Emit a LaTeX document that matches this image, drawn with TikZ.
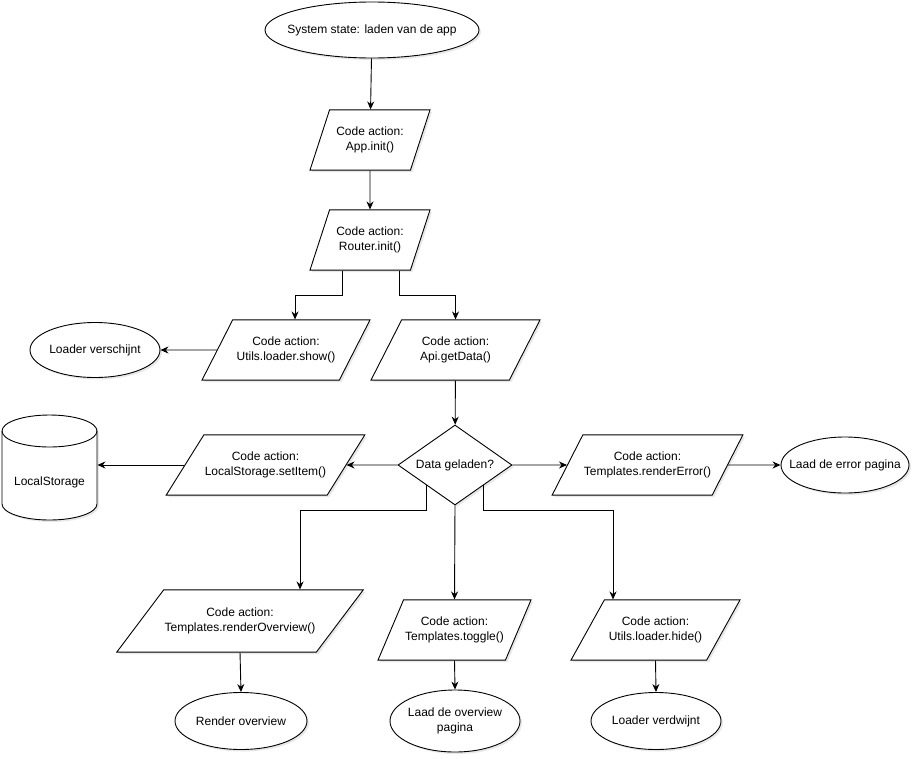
\documentclass[tikz,border=0pt]{standalone}
\usepackage{fontspec}
\setmainfont{Liberation Sans}
\usetikzlibrary{arrows.meta,positioning,shapes.geometric,shadows}

\begin{document}
\begin{tikzpicture}[
    x=1pt, y=-1pt,
    font=\fontsize{12}{15}\selectfont,
    shade/.style={
        drop shadow={shadow xshift=2pt, shadow yshift=-2pt, opacity=0.18}
    },
    state/.style={
        draw,
        ellipse,
        align=center,
        fill=white,
        shade,
        inner xsep=-15pt,
        inner ysep=0pt,
        minimum height=56pt
    },
    action/.style={
        draw,
        trapezium,
        trapezium left angle=#1,
        trapezium right angle=180-#1,
        trapezium stretches body,
        align=center,
        fill=white,
        shade,
        inner xsep=1pt,
        inner ysep=17pt
    },
    check/.style={
        draw,
        diamond,
        aspect=1.4,
        fill=white,
        shade,
        inner sep=1pt,
        minimum width=114pt,
        minimum height=80pt
    },
    cyl/.style={
        draw,
        fill=white,
        -
    },
    dbtext/.style={
        minimum width=95pt,
        inner sep=0pt
    },
    ->, >={Stealth[length=8pt,width=7pt]}, line width=0.9pt
]
\useasboundingbox (0,0) rectangle (918,758);

\node[state, minimum width=214pt] (start) at (372,30) {System state: laden van de app};

\node[action=72, minimum width=120pt] (app) at (370,140) {Code action:\\App.init()};
\node[action=72, minimum width=120pt] (router) at (370,240) {Code action:\\Router.init()};

\node[action=63, minimum width=168pt] (show) at (286,350) {Code action:\\Utils.loader.show()};
\node[action=63, minimum width=169pt] (getdata) at (455.5,350) {Code action:\\Api.getData()};
\node[state, minimum width=130pt, minimum height=55pt] (verschijnt) at (95,350) {Loader verschijnt};

\node[check] (geladen) at (455,465) {Data geladen?};
\node[action=58, minimum width=189pt] (setitem) at (265.5,465) {Code action:\\LocalStorage.setItem()};
\node[action=63, minimum width=185pt] (rendererror) at (647.5,465) {Code action:\\Templates.renderError()};
\node[state, minimum width=128pt] (errorpage) at (845,465) {Laad de error pagina};

% database
\coordinate (db) at (49.5,467.5);
\draw[cyl, shade] ([shift={(-47.5,-36.5)}]db) -- ([shift={(-47.5,36.5)}]db)
    arc[start angle=180, end angle=360, x radius=47.5pt, y radius=16pt]
    -- ([shift={(47.5,-36.5)}]db)
    arc[start angle=0, end angle=180, x radius=47.5pt, y radius=16pt] -- cycle;
\draw[cyl, fill=none] ([shift={(-47.5,-36.5)}]db)
    arc[start angle=180, end angle=360, x radius=47.5pt, y radius=16pt];
\node[dbtext] (storage) at ([yshift=-14.5pt]db) {LocalStorage};

\node[action=53, minimum width=238pt, inner ysep=18pt] (overview) at (240,621) {Code action:\\Templates.renderOverview()};
\node[action=67, minimum width=153pt] (toggle) at (454.5,630) {Code action:\\Templates.toggle()};
\node[action=61, minimum width=169pt] (hide) at (655.5,630) {Code action:\\Utils.loader.hide()};

\node[state, minimum width=132pt, minimum height=57pt] (renderov) at (241,721) {Render overview};
\node[state, minimum width=130pt, minimum height=62pt] (laadov) at (455,721) {Laad de overview\\pagina};
\node[state, minimum width=130pt, minimum height=57pt] (verdwijnt) at (656,721) {Loader verdwijnt};

% opstarten
\draw (start) -- (app);
\draw (app) -- (router);
\draw ([xshift=-28pt]router.south) -- ++(0,25) -| ([xshift=9pt]show.north);
\draw ([xshift=29pt]router.south) -- ++(0,25) -| (getdata.north);
\draw (show.west) -- (verschijnt.east);
\draw (getdata) -- (geladen);

% data geladen
\draw (geladen.west) -- (setitem.east);
\draw (setitem.west) -- (setitem.west -| storage.east);
\draw (geladen.east) -- (rendererror.west);
\draw (rendererror.east) -- (errorpage.west);
\draw (geladen.south west) -- ++(0,25) -| ([xshift=60pt]overview.north);
\draw (geladen.south) -- (toggle.north);
\draw (geladen.south east) -- ++(0,25) -| ([xshift=-42.5pt]hide.north);

% afronden
\draw (overview.south) -- (renderov.north);
\draw (toggle.south) -- (laadov.north);
\draw (hide.south) -- (verdwijnt.north);

\end{tikzpicture}
\end{document}
